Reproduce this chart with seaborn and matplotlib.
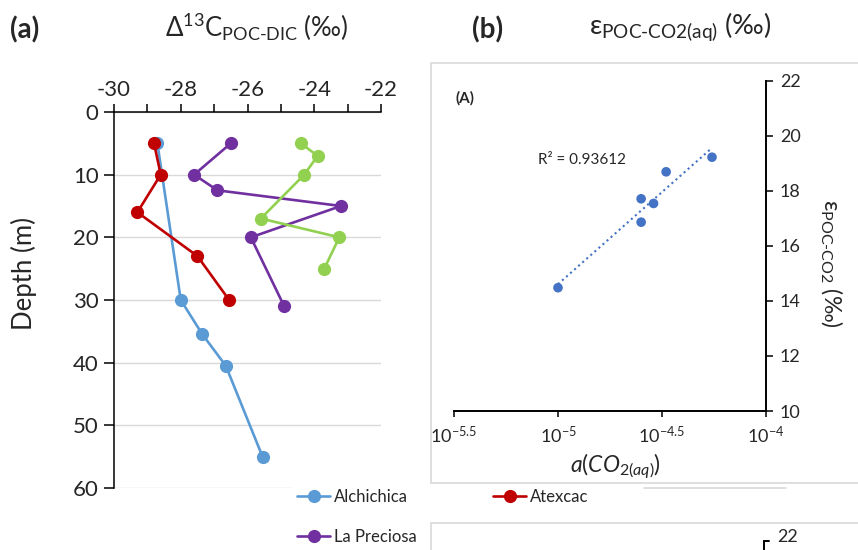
import matplotlib
matplotlib.use("Agg")
import matplotlib.pyplot as plt
import seaborn as sns
import numpy as np
import pandas as pd
from matplotlib.patches import Rectangle
from matplotlib.lines import Line2D
from matplotlib.ticker import MultipleLocator, FixedLocator, FixedFormatter

# ---------------- data ----------------
lakes = ["Alchichica", "Atexcac", "La Preciosa", "Quechulac"]
alch_delta = [-28.7, -28.0, -27.35, -26.65, -25.55]
alch_depth = [5, 30, 35.5, 40.5, 55]
atex_delta = [-28.8, -28.6, -29.3, -27.5, -26.55]
atex_depth = [5, 10, 16, 23, 30]
prec_delta = [-26.5, -27.6, -26.9, -23.2, -25.9, -24.9]
prec_depth = [5, 10, 12.5, 15, 20, 31]
quec_delta = [-24.4, -23.9, -24.3, -25.6, -23.25, -23.7]
quec_depth = [5, 7, 10, 17, 20, 25]
lake_colors = ["#5B9BD5", "#C00000", "#7030A0", "#92D050"]

aco2 = [1.0e-5, 2.51e-5, 2.51e-5, 2.88e-5, 3.31e-5, 5.50e-5]
eps = [14.48, 17.71, 16.86, 17.54, 18.69, 19.22]
r2_label = "R² = 0.93612"

left_xticks = [-30, -28, -26, -24, -22]
right_yticks = [10, 12, 14, 16, 18, 20, 22]
right_xexp = [-5.5, -5, -4.5, -4]
right_xlabels = [r"$10^{-5.5}$", r"$10^{-5}$", r"$10^{-4.5}$", r"$10^{-4}$"]

# ---------------- style ----------------
sns.set_theme(style="white")
plt.rcParams["font.family"] = ["Lato", "DejaVu Sans"]
plt.rcParams["mathtext.fontset"] = "custom"
plt.rcParams["mathtext.rm"] = "Lato"
plt.rcParams["mathtext.it"] = "Lato:italic"
plt.rcParams["mathtext.bf"] = "Lato:bold"
plt.rcParams["mathtext.default"] = "regular"
plt.rcParams["axes.unicode_minus"] = False

W, H = 858, 550
fig = plt.figure(figsize=(W / 100, H / 100), dpi=100)
fig.patch.set_facecolor("white")

def fx(px):
    return px / W

def fy(py):
    return 1 - py / H

# ---------------- left panel ----------------
ax1 = fig.add_axes([fx(114), fy(488), fx(381) - fx(114), fy(112) - fy(488)])
series = [(alch_delta, alch_depth), (atex_delta, atex_depth),
          (prec_delta, prec_depth), (quec_delta, quec_depth)]
for name, (d, z), c in zip(lakes, series, lake_colors):
    df = pd.DataFrame({"delta": d, "depth": z})
    sns.lineplot(data=df, x="delta", y="depth", sort=False, ax=ax1, color=c,
                 marker="o", markersize=9.5, markeredgewidth=0, linewidth=1.9,
                 label=name, estimator=None)
if ax1.get_legend() is not None:
    ax1.get_legend().remove()

ax1.set_xlim(-30, -22)
ax1.set_ylim(60, 0)
ax1.xaxis.set_major_locator(FixedLocator(left_xticks))
ax1.xaxis.set_minor_locator(MultipleLocator(1))
ax1.yaxis.set_major_locator(MultipleLocator(10))
ax1.xaxis.tick_top()
ax1.tick_params(axis="x", which="both", direction="out", length=6, width=1.1,
                color="black", labelsize=16, pad=3, top=True, bottom=False)
ax1.tick_params(axis="y", which="major", direction="out", length=7, width=1.1,
                color="black", labelsize=16, pad=4, left=True)
ax1.grid(axis="y", color="#D9D9D9", linewidth=1.0)
ax1.grid(axis="x", visible=False)
ax1.set_axisbelow(True)
for s in ["right", "bottom"]:
    ax1.spines[s].set_visible(False)
for s in ["top", "left"]:
    ax1.spines[s].set_color("black")
    ax1.spines[s].set_linewidth(1.1)
ax1.set_xlabel("")
ax1.set_ylabel("")

fig.text(fx(25), fy(30), "(a)", fontsize=20, fontweight="bold", ha="center", va="center")
fig.text(fx(257), fy(27), r"Δ$^{13}$C$_{POC\text{-}DIC}$ (‰)", fontsize=18.5,
         ha="center", va="center")
fig.text(fx(24), fy(274), "Depth (m)", fontsize=18.5, rotation=90, ha="center", va="center")

# legend (the fourth entry of the original is hidden behind a neighbouring chart)
handles = ax1.get_lines()
order = [0, 2, 1]
leg = fig.legend([handles[i] for i in order], [lakes[i] for i in order],
                 loc="upper left", bbox_to_anchor=(fx(292), fy(484)), ncol=2,
                 frameon=True, facecolor="white", edgecolor="none", framealpha=1,
                 fontsize=12, handlelength=2.0, handletextpad=0.2,
                 columnspacing=4.6, labelspacing=1.45, borderpad=0.3,
                 borderaxespad=0)

# ---------------- right panel ----------------
fig.add_artist(Rectangle((fx(431), fy(483)), fx(870) - fx(431), fy(63) - fy(483),
                         transform=fig.transFigure, facecolor="white",
                         edgecolor="#D9D9D9", linewidth=1.2, zorder=-1))

ax2 = fig.add_axes([fx(454), fy(411), fx(766) - fx(454), fy(80.7) - fy(411)])
ax2.patch.set_alpha(0)
sdf = pd.DataFrame({"aco2": aco2, "eps": eps})
sns.scatterplot(data=sdf, x="aco2", y="eps", ax=ax2, color="#4472C4", s=48,
                edgecolor="none", zorder=3)
ax2.set_xscale("log")
logx = np.log10(np.array(aco2))
coef = np.polyfit(logx, np.array(eps), 1)
xl = np.array([logx.min(), logx.max()])
ax2.plot(10 ** xl, np.polyval(coef, xl), linestyle=(0, (1, 1.6)), color="#4472C4",
         linewidth=1.5, zorder=2)

ax2.set_xlim(10 ** -5.5, 10 ** -4)
ax2.set_ylim(10, 22)
ax2.xaxis.set_major_locator(FixedLocator([10 ** e for e in right_xexp]))
ax2.xaxis.set_major_formatter(FixedFormatter(right_xlabels))
ax2.xaxis.set_minor_locator(FixedLocator([]))
ax2.yaxis.set_major_locator(FixedLocator(right_yticks))
ax2.yaxis.tick_right()
ax2.tick_params(axis="y", which="major", direction="out", length=5, width=1.1,
                color="black", labelsize=13, pad=5, right=True, left=False)
ax2.tick_params(axis="x", which="major", direction="out", length=4, width=1.1,
                color="black", labelsize=13, pad=6, bottom=True)
ax2.grid(False)
for s in ["left", "top"]:
    ax2.spines[s].set_visible(False)
for s in ["right", "bottom"]:
    ax2.spines[s].set_color("black")
    ax2.spines[s].set_linewidth(1.4)
ax2.set_xlabel("")
ax2.set_ylabel("")

fig.text(fx(615), fy(466), r"$\mathit{a(CO_{2(aq)})}$", fontsize=16.5, ha="center", va="center")
fig.text(fx(831), fy(263), r"ε$_{POC\text{-}CO2}$ (‰)", fontsize=16.5, rotation=270,
         ha="center", va="center")
fig.text(fx(456), fy(98), "(A)", fontsize=11, fontweight="bold", ha="left", va="center")
fig.text(fx(538), fy(160), r2_label, fontsize=11, ha="left", va="center")

fig.text(fx(488), fy(30), "(b)", fontsize=20, fontweight="bold", ha="center", va="center")
fig.text(fx(680), fy(27), r"ε$_{POC\text{-}CO2(aq)}$ (‰)", fontsize=19.5,
         ha="center", va="center")

# leftover pieces of a neighbouring chart
fig.add_artist(Line2D([fx(644), fx(786)], [fy(488), fy(488)], transform=fig.transFigure,
                      color="#D9D9D9", linewidth=1.2))
fig.add_artist(Rectangle((fx(431), fy(560)), fx(870) - fx(431), fy(523) - fy(560),
                         transform=fig.transFigure, facecolor="white",
                         edgecolor="#D9D9D9", linewidth=1.2, zorder=10))
fig.add_artist(Line2D([fx(764), fx(764)], [fy(541), fy(552)], transform=fig.transFigure,
                      color="black", linewidth=1.4, zorder=11))
fig.add_artist(Line2D([fx(764), fx(769)], [fy(541), fy(541)], transform=fig.transFigure,
                      color="black", linewidth=1.4, zorder=11))
fig.text(fx(788), fy(537), "22", fontsize=13, ha="center", va="center", zorder=11)

fig.savefig("out.png", dpi=100)
